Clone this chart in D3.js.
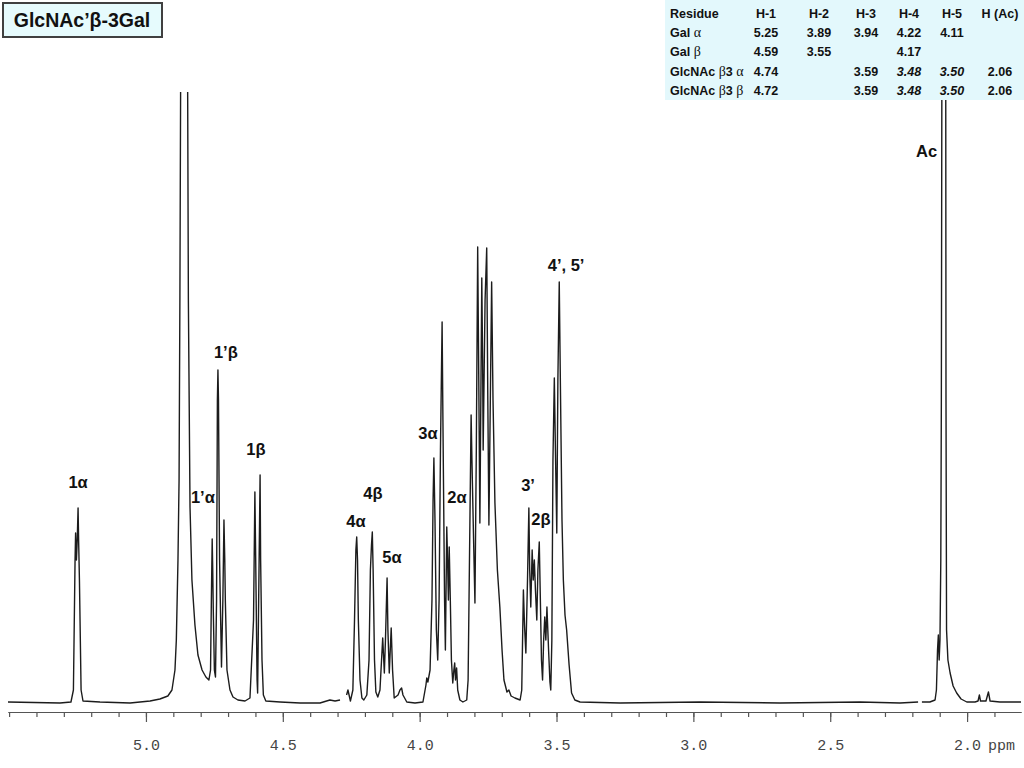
<!DOCTYPE html>
<html>
<head>
<meta charset="utf-8">
<script src="https://d3js.org/d3.v7.min.js"></script>
<style>
  body { margin: 0; background: #fff; }
  svg { display: block; }
</style>
</head>
<body>
<svg id="chart" width="1024" height="768"></svg>
<script>
// 1H spectrum trace (ppm, intensity above baseline); null = gap in the trace
const ppmValues = [
    5.504, 5.314, 5.274,
    5.265, 5.259, 5.257, 5.254, 5.251, 5.248, 5.246, 5.243, 5.237, 5.230,
    5.168, 5.058, 4.985,
    4.949, 4.920, 4.905, 4.894, 4.889, 4.883, 4.879, 4.876, 4.873, 4.848, 4.845, 4.839, 4.832, 4.821, 4.810, 4.795, 4.781, 4.770, 4.764,
    4.761, 4.758, 4.756, 4.754, 4.750, 4.746,
    4.742, 4.739, 4.737, 4.735, 4.733, 4.731, 4.724, 4.719, 4.715, 4.712, 4.710, 4.704, 4.693, 4.682, 4.664,
    4.638, 4.620,
    4.607, 4.602, 4.599, 4.594, 4.592, 4.589, 4.583, 4.581, 4.576, 4.571, 4.562,
    4.510, 4.437, 4.364, 4.328, 4.309, 4.291,
    4.280,
    4.267, 4.262, 4.253, 4.244,
    4.238, 4.233, 4.230, 4.227, 4.224, 4.218, 4.211, 4.204,
    4.193, 4.185, 4.180, 4.176, 4.173, 4.170, 4.165, 4.160, 4.153,
    4.145, 4.135, 4.129, 4.125, 4.119, 4.116, 4.111, 4.104, 4.099, 4.093, 4.079, 4.072, 4.066, 4.061, 4.047, 4.017, 3.988, 3.977, 3.974, 3.970, 3.962,
    3.955, 3.951, 3.948, 3.944, 3.939, 3.934, 3.929, 3.924, 3.918, 3.915, 3.909, 3.906,
    3.901, 3.898, 3.895, 3.892, 3.888, 3.884, 3.879, 3.875, 3.872, 3.869, 3.865, 3.861, 3.853, 3.842, 3.828,
    3.823, 3.818, 3.812, 3.809, 3.803, 3.798, 3.793, 3.788, 3.784, 3.780, 3.773, 3.770, 3.768, 3.761, 3.755, 3.751, 3.747, 3.741, 3.737, 3.732, 3.725, 3.716, 3.707, 3.699, 3.692, 3.681, 3.674, 3.666, 3.652, 3.633,
    3.627, 3.621, 3.617, 3.612, 3.606, 3.601, 3.598, 3.594, 3.589, 3.585, 3.581, 3.577, 3.572, 3.568, 3.563, 3.559, 3.555, 3.551, 3.547, 3.543, 3.539, 3.535, 3.529, 3.524, 3.521, 3.517,
    3.513, 3.508, 3.504, 3.499, 3.495, 3.490, 3.486, 3.480, 3.475, 3.469, 3.463, 3.454, 3.445, 3.433, 3.414,
    3.268, 2.976, 2.684, 2.391, 2.245, 2.179,
    2.172,
    2.165, 2.136, 2.117, 2.112, 2.108, 2.105, 2.102, 2.099, 2.096, 2.094, 2.092, 2.078, 2.077, 2.075, 2.070, 2.062, 2.051, 2.038, 2.022, 2.001,
    1.971, 1.960, 1.955, 1.951, 1.931, 1.922, 1.916, 1.880, 1.803
];
const intensityValues = [
    0, -1, 0,
    12, 142, 169, 142, 162, 194, 162, 122, 12, 1,
    0, -1, 1,
    3, 6, 12, 32, 62, 142, 222, 402, 642, 642, 402, 195, 122, 77, 47, 32, 25, 22, 32,
    102, 163, 132, 92, 32, 25,
    102, 302, 332, 302, 222, 142, 35, 102, 182, 142, 102, 32, 12, 5, 2,
    1, 4,
    82, 210, 142, 22, 9, 82, 227, 142, 42, 7, 1,
    0, -1, -1, 2, 1, 2,
    null,
    7, 12, 1, 12,
    82, 152, 165, 142, 82, 22, 4, 2,
    7, 42, 132, 157, 170, 132, 42, 10, 5,
    12, 64, 29, 62, 124, 72, 29, 74, 32, 4, 7, 12, 14, 7, 0, -1, 0, 17, 24, 20, 32,
    102, 202, 244, 182, 72, 42, 102, 252, 380, 282, 102, 52,
    175, 142, 102, 155, 102, 42, 19, 32, 39, 22, 34, 12, 2, 0, 2,
    22, 142, 287, 242, 162, 99, 252, 455, 322, 179, 424, 342, 252, 402, 454, 302, 177, 322, 420, 302, 199, 132, 95, 52, 22, 10, 12, 6, 4, 2,
    12, 112, 77, 49, 122, 194, 132, 95, 152, 122, 142, 112, 82, 132, 160, 102, 42, 22, 62, 85, 62, 95, 52, 20, 12, 62,
    242, 324, 252, 169, 322, 420, 322, 182, 122, 87, 72, 37, 9, 2, 0,
    -1, 0, -1, 0, -1, 0,
    null,
    0, 0, 2, 12, 52, 67, 42, 62, 142, 302, 642, 642, 302, 72, 42, 29, 16, 9, 3, 0,
    0, 1, 7, 1, 1, 10, 1, 0, 0
];

const majorTicks = [5.0, 4.5, 4.0, 3.5, 3.0, 2.5, 2.0];

// peak assignments
const peakLabels = ["1α", "1’α", "1’β", "1β", "4α", "4β", "5α", "3α", "2α", "3’", "2β", "4’, 5’", "Ac"];
const labelPpm = [5.248, 4.792, 4.708, 4.598, 4.233, 4.171, 4.101, 3.970, 3.864, 3.604, 3.557, 3.465, 2.148];
const labelIntensity = [214, 199, 344, 247, 175, 203, 139, 263, 199, 211, 177, 431, 545];

// chemical shift table
const tableHeaders = ["Residue", "H-1", "H-2", "H-3", "H-4", "H-5", "H (Ac)"];
const residues = ["Gal α", "Gal β", "GlcNAc β3 α", "GlcNAc β3 β"];
const shiftH1 = ["5.25", "4.59", "4.74", "4.72"];
const shiftH2 = ["3.89", "3.55", "", ""];
const shiftH3 = ["3.94", "", "3.59", "3.59"];
const shiftH4 = ["4.22", "4.17", "3.48", "3.48"];
const shiftH5 = ["4.11", "", "3.50", "3.50"];
const shiftAc = ["", "", "2.06", "2.06"];

const title = "GlcNAc’β-3Gal";

let svg = d3.select("#chart");

let x = d3.scaleLinear().domain([5.504, 1.803]).range([8, 1021]);
let y = d3.scaleLinear().domain([0, 610]).range([702, 92]);

svg.append("defs").append("clipPath").attr("id", "plotClip")
    .append("rect").attr("x", 0).attr("y", 92).attr("width", 1024).attr("height", 640);

let points = ppmValues.map(function (p, i) {
    return { ppm: p, v: intensityValues[i] };
});

let line = d3.line()
    .defined(function (d) { return d.v !== null; })
    .x(function (d) { return x(d.ppm); })
    .y(function (d) { return y(d.v); });

svg.append("path")
    .datum(points)
    .attr("clip-path", "url(#plotClip)")
    .attr("fill", "none")
    .attr("stroke", "#1c1c1c")
    .attr("stroke-width", 1.4)
    .attr("stroke-linejoin", "round")
    .attr("d", line);

// axes: minor ticks every 0.1 ppm, labelled major every 0.5
let minorAxis = d3.axisBottom(x)
    .tickValues(d3.range(19, 56).map(function (d) { return d / 10; }))
    .tickSize(5)
    .tickSizeOuter(0)
    .tickFormat("");
svg.append("g").attr("transform", "translate(0,712)").call(minorAxis);

let majorAxis = d3.axisBottom(x)
    .tickValues(majorTicks)
    .tickSize(10)
    .tickSizeOuter(0)
    .tickPadding(17)
    .tickFormat(d3.format(".1f"));
let gx = svg.append("g").attr("transform", "translate(0,712)").call(majorAxis);

svg.selectAll(".domain, .tick line").attr("stroke", "#555").attr("stroke-width", 1.2);
gx.selectAll("text")
    .attr("font-family", "Liberation Mono, monospace")
    .attr("font-size", 15)
    .attr("fill", "#444");

svg.append("text")
    .attr("x", x(2.0) + 21)
    .attr("y", 712 + 27)
    .attr("dy", "0.71em")
    .attr("font-family", "Liberation Mono, monospace")
    .attr("font-size", 15)
    .attr("fill", "#444")
    .text("ppm");

// peak labels
svg.append("g").selectAll("text")
    .data(peakLabels)
    .enter().append("text")
    .attr("x", function (d, i) { return x(labelPpm[i]); })
    .attr("y", function (d, i) { return y(labelIntensity[i]); })
    .attr("text-anchor", "middle")
    .attr("font-family", "Liberation Sans, Arial, sans-serif")
    .attr("font-weight", "bold")
    .attr("font-size", 16.5)
    .attr("fill", "#111")
    .text(function (d) { return d; });

// shift table in the top right corner
let table = svg.append("g");
table.append("rect")
    .attr("x", 665).attr("y", 0).attr("width", 359).attr("height", 100)
    .attr("fill", "#e3f8fc");

let colX = [670, 766, 819, 866, 909, 952, 1000];
let rowY = [18, 37, 56, 76, 95];
let columns = [shiftH1, shiftH2, shiftH3, shiftH4, shiftH5, shiftAc];

function cellText(txt, cx, cy, anchor, italic) {
    let t = table.append("text")
        .attr("x", cx).attr("y", cy)
        .attr("text-anchor", anchor)
        .attr("font-family", "Liberation Sans, Arial, sans-serif")
        .attr("font-weight", "bold")
        .attr("font-size", 12.5)
        .attr("fill", "#111");
    if (italic) t.attr("font-style", "italic");
    // greek letters set in a plain serif like the original
    txt.split(/([αβ])/).forEach(function (part) {
        if (part === "") return;
        let s = t.append("tspan").text(part);
        if (part === "α" || part === "β") {
            s.attr("font-family", "Liberation Serif, serif").attr("font-weight", "normal").attr("font-size", 14);
        }
    });
}

tableHeaders.forEach(function (h, j) {
    cellText(h, colX[j], rowY[0], j === 0 ? "start" : "middle", false);
});
residues.forEach(function (r, i) {
    cellText(r, colX[0], rowY[i + 1], "start", false);
    columns.forEach(function (col, j) {
        if (col[i] === "") return;
        let italic = i >= 2 && (j === 3 || j === 4);
        cellText(col[i], colX[j + 1], rowY[i + 1], "middle", italic);
    });
});

// title box
svg.append("rect")
    .attr("x", 3).attr("y", 3).attr("width", 159).attr("height", 34)
    .attr("fill", "#e6fbfd")
    .attr("stroke", "#404040")
    .attr("stroke-width", 2);
svg.append("text")
    .attr("x", 82).attr("y", 27)
    .attr("text-anchor", "middle")
    .attr("font-family", "Liberation Sans, Arial, sans-serif")
    .attr("font-weight", "bold")
    .attr("font-size", 19.5)
    .attr("fill", "#111")
    .text(title);
</script>
</body>
</html>
